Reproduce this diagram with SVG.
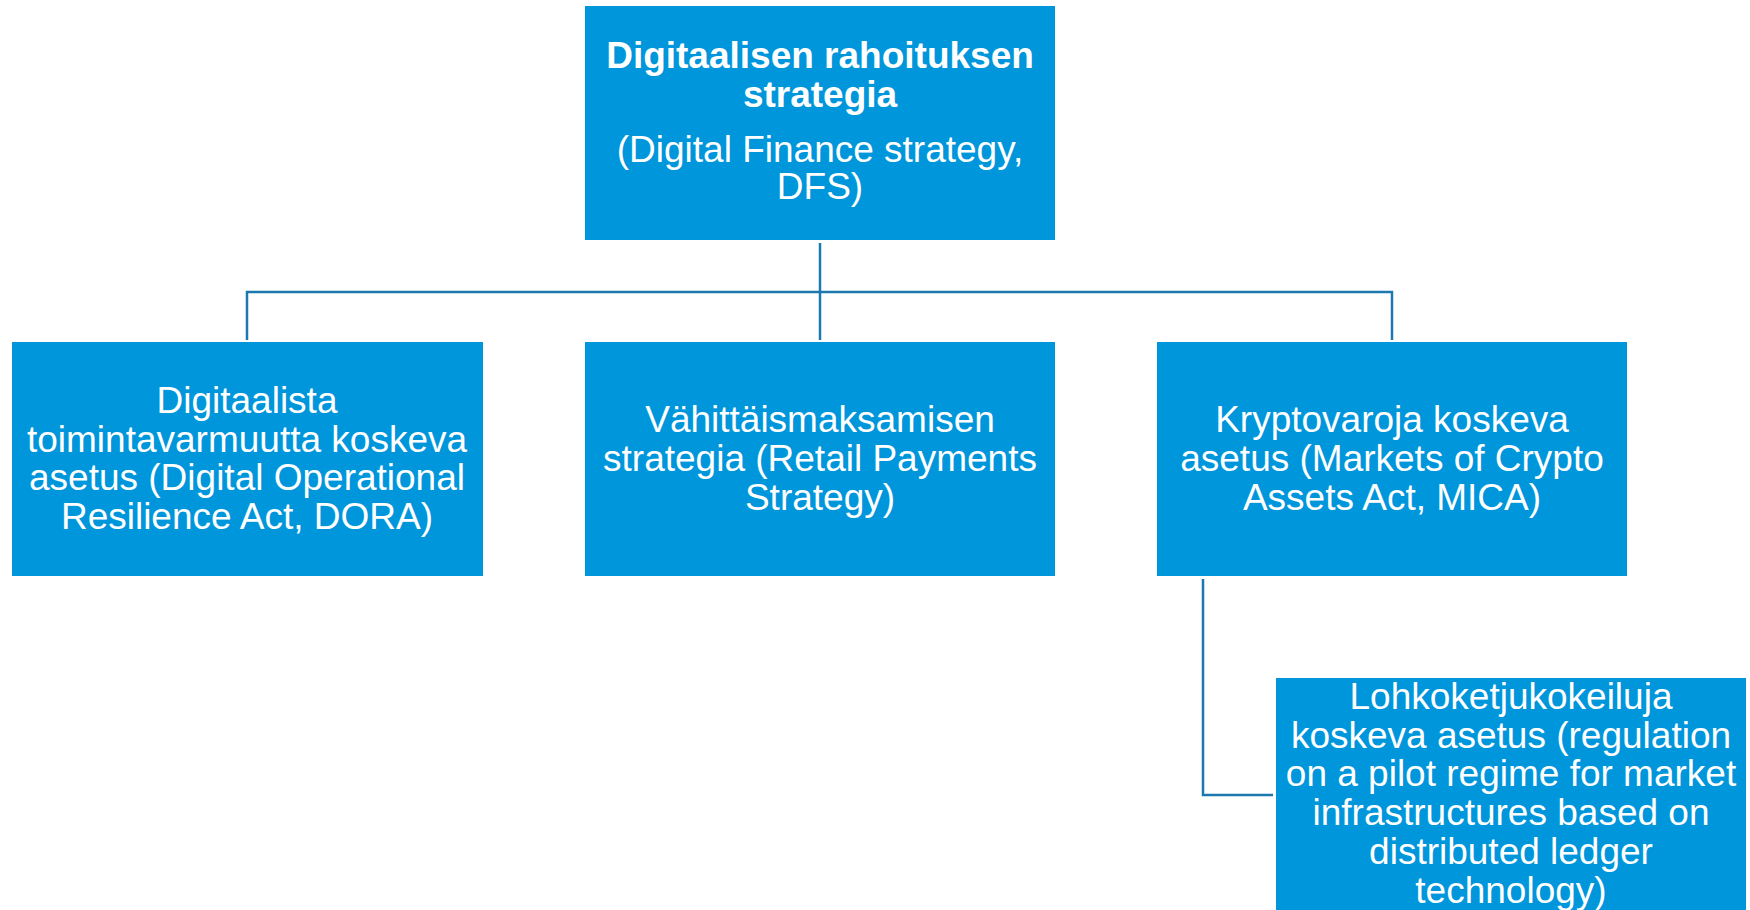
<svg xmlns="http://www.w3.org/2000/svg" width="1750" height="910" viewBox="0 0 1750 910">
<style>
.box{fill:#0096DB;}
.t{font-family:"Liberation Sans",Arial,sans-serif;font-size:37px;fill:#ffffff;text-anchor:middle;}
.b{font-weight:bold;}
.c{fill:none;stroke:#1E78B0;stroke-width:2.5;}
</style>
<rect width="1750" height="910" fill="#ffffff"/>
<g id="connectors">
<path class="c" d="M820,243 V340"/>
<path class="c" d="M247,340 V292 H1392 V340"/>
<path class="c" d="M1203,579 V795 H1273"/>
</g>
<g id="node-dfs">
<rect class="box" x="585" y="6" width="470" height="234"/>
<text class="t b" x="820" y="68">Digitaalisen rahoituksen</text>
<text class="t b" x="820" y="107">strategia</text>
<text class="t" x="820" y="162">(Digital Finance strategy,</text>
<text class="t" x="820" y="199">DFS)</text>
</g>
<g id="node-dora">
<rect class="box" x="12" y="342" width="471" height="234"/>
<text class="t" x="247" y="413">Digitaalista</text>
<text class="t" x="247" y="452">toimintavarmuutta koskeva</text>
<text class="t" x="247" y="490">asetus (Digital Operational</text>
<text class="t" x="247" y="529">Resilience Act, DORA)</text>
</g>
<g id="node-rps">
<rect class="box" x="585" y="342" width="470" height="234"/>
<text class="t" x="820" y="432">Vähittäismaksamisen</text>
<text class="t" x="820" y="471">strategia (Retail Payments</text>
<text class="t" x="820" y="510">Strategy)</text>
</g>
<g id="node-mica">
<rect class="box" x="1157" y="342" width="470" height="234"/>
<text class="t" x="1392" y="432">Kryptovaroja koskeva</text>
<text class="t" x="1392" y="471">asetus (Markets of Crypto</text>
<text class="t" x="1392" y="510">Assets Act, MICA)</text>
</g>
<g id="node-dlt">
<rect class="box" x="1276" y="678" width="470" height="234"/>
<text class="t" x="1511" y="709">Lohkoketjukokeiluja</text>
<text class="t" x="1511" y="748">koskeva asetus (regulation</text>
<text class="t" x="1511" y="786">on a pilot regime for market</text>
<text class="t" x="1511" y="825">infrastructures based on</text>
<text class="t" x="1511" y="864">distributed ledger</text>
<text class="t" x="1511" y="903">technology)</text>
</g>
</svg>
